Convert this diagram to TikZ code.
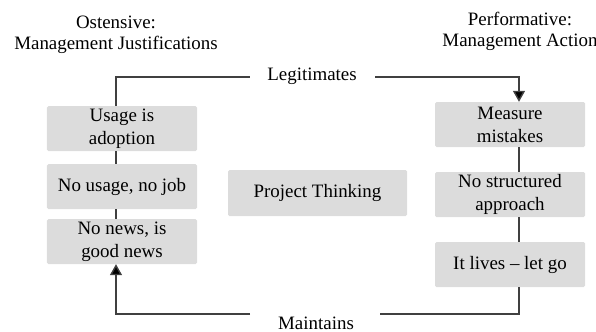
\documentclass[tikz,border=0pt]{standalone}
\usepackage{fontspec}
\setmainfont{Liberation Serif}
\usetikzlibrary{arrows.meta}
\definecolor{boxgray}{HTML}{DCDCDC}
\definecolor{linegray}{HTML}{404040}
\begin{document}
\begin{tikzpicture}[x=1bp,y=-1bp,
  box/.style={fill=boxgray,rounded corners=1.5bp,minimum width=150bp,align=center,inner sep=0pt,font=\fontsize{19}{23}\selectfont},
  lbl/.style={align=center,inner sep=0pt,font=\fontsize{19}{21}\selectfont},
  conn/.style={draw=linegray,line width=1.4bp},
  tip/.style={-{Triangle[width=12bp,length=11bp,fill=black]}}]
\useasboundingbox (0,0) rectangle (596,331);
% headers
\node[lbl] (h1) at (116,35) {Ostensive:\\Management Justifications};
\node[lbl] (h2) at (520,31) {Performative:\\Management Action};
% left boxes
\node[box,minimum height=45bp] (l1) at (122,128.5) {Usage is\\adoption};
\node[box,minimum height=45bp] (l2) at (122,186.5) {No usage, no job};
\node[box,minimum height=45bp] (l3) at (122,241.5) {No news, is\\good news};
% center
\node[box,minimum width=179bp,minimum height=46bp] (pt) at (317.5,193) {Project Thinking};
% right boxes
\node[box,minimum height=45bp] (r1) at (510,124.5) {Measure\\mistakes};
\node[box,minimum height=45bp] (r2) at (510,194.5) {No structured\\approach};
\node[box,minimum height=45bp] (r3) at (510,264.5) {It lives -- let go};
% labels
\node[lbl] (leg) at (312,76) {Legitimates};
\node[lbl] (mai) at (316,323) {Maintains};
% connectors
\coordinate (ltop) at (116,77);
\coordinate (rtop) at (519,77);
\coordinate (lbot) at (116,314);
\coordinate (rbot) at (519,314);
\draw[conn] (l1.north -| ltop) -- (ltop) -- (250,77);
\draw[conn,tip] (375,77) -- (rtop) -- (r1.north -| rtop);
\draw[conn] (l1.south -| ltop) -- (l2.north -| ltop);
\draw[conn] (l2.south -| ltop) -- (l3.north -| ltop);
\draw[conn] (r1.south -| rtop) -- (r2.north -| rtop);
\draw[conn] (r2.south -| rtop) -- (r3.north -| rtop);
\draw[conn] (r3.south -| rbot) -- (rbot) -- (380,314);
\draw[conn,tip] (250,314) -- (lbot) -- (l3.south -| lbot);
\end{tikzpicture}
\end{document}
